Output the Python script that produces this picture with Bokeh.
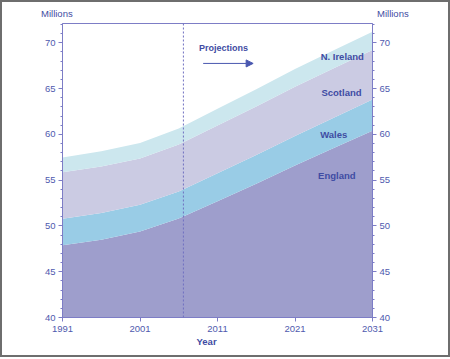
from bokeh.plotting import figure
from bokeh.layouts import column
from bokeh.models import (Range1d, LinearAxis, Label, Span, Arrow, NormalHead,
                          FixedTicker, ColumnDataSource, Title, Div)
from bokeh.embed import file_html
from bokeh.resources import INLINE

# ---- data (millions) ----
years = [1991, 1996, 2001, 2006, 2011, 2016, 2021, 2026, 2031]
england = [47.9, 48.5, 49.4, 50.8, 52.7, 54.6, 56.6, 58.5, 60.4]
wales = [2.87, 2.90, 2.91, 2.97, 3.05, 3.13, 3.22, 3.31, 3.40]
scotland = [5.08, 5.09, 5.06, 5.12, 5.22, 5.30, 5.37, 5.41, 5.42]
n_ireland = [1.61, 1.66, 1.69, 1.74, 1.83, 1.89, 1.94, 1.97, 1.99]

series_names = ["England", "Wales", "Scotland", "N. Ireland"]
series_keys = ["england", "wales", "scotland", "n_ireland"]
colors = ["#9e9ecc", "#99cce6", "#cbcbe3", "#cce7ee"]

x_ticks = [1991, 2001, 2011, 2021, 2031]
y_ticks = [40, 45, 50, 55, 60, 65, 70]
projection_start = 2006.6
unit_label = "Millions"
x_label = "Year"

TXT = "#3f4ca3"
TICK = "#4f5aae"
AX = "#7d7dc6"
FONT = "Liberation Sans"

source = ColumnDataSource(dict(year=years, england=england, wales=wales,
                               scotland=scotland, n_ireland=n_ireland))

fig = figure(width=446, height=333, output_backend="svg", toolbar_location=None,
             x_range=Range1d(1991, 2031), y_range=Range1d(40, 72.1),
             min_border_left=60, min_border_right=76, min_border_top=1,
             min_border_bottom=38, title=None)
fig.background_fill_color = "white"
fig.border_fill_color = "white"
fig.outline_line_color = AX
fig.outline_line_width = 1
fig.xgrid.visible = False
fig.ygrid.visible = False

fig.varea_stack(stackers=series_keys, x="year", color=colors, source=source)

def style_axis(ax, minor=True):
    ax.axis_line_color = AX
    ax.major_tick_line_color = AX
    ax.minor_tick_line_color = AX if minor else None
    ax.major_tick_out = 4
    ax.major_tick_in = 0
    ax.minor_tick_out = 2
    ax.minor_tick_in = 0
    ax.major_label_text_color = TICK
    ax.major_label_text_font = FONT
    ax.major_label_text_font_size = "9.5px"
    ax.major_label_standoff = 3

fig.xaxis.ticker = FixedTicker(ticks=x_ticks)
style_axis(fig.xaxis[0], minor=False)
fig.xaxis.major_label_standoff = 4

fig.yaxis.ticker = FixedTicker(ticks=y_ticks, minor_ticks=list(range(40, 73)))
style_axis(fig.yaxis[0])

raxis = LinearAxis(ticker=FixedTicker(ticks=y_ticks, minor_ticks=list(range(40, 73))))
style_axis(raxis)
fig.add_layout(raxis, "right")

fig.add_layout(Span(location=projection_start, dimension="height",
                    line_color="#6f6fc0", line_dash="2 2", line_width=1))

def lab(x, y, text, bold=True, align="center", size="9px"):
    fig.add_layout(Label(x=x, y=y, text=text, text_color=TXT, text_font=FONT,
                         text_font_size=size,
                         text_font_style="bold" if bold else "normal",
                         text_align=align, text_baseline="middle"))

lab(2008.6, 69.45, "Projections", align="left")
fig.add_layout(Arrow(x_start=2009.15, y_start=67.74, x_end=2015.6, y_end=67.74,
                     line_color="#4a58b0", line_width=1,
                     end=NormalHead(size=7, fill_color="#4a58b0", line_color="#4a58b0")))

label_pos = [(2026.4, 55.5), (2026.0, 60.0), (2027.0, 64.6), (2027.1, 68.55)]
for name, (lx, ly) in zip(series_names, label_pos):
    lab(lx, ly, name, size="9.5px")

# "Year" below the x axis
fig.add_layout(Title(text=x_label, align="left", offset=134, standoff=3,
                     vertical_align="top",
                     text_color=TXT, text_font=FONT, text_font_size="9.5px",
                     text_font_style="bold"), "below")

# "Millions" above both y axes
span_style = ("position:absolute;top:6px;line-height:11px;white-space:nowrap;"
              "font-family:'Liberation Sans';font-size:9.5px;color:%s;" % TXT)
units = Div(text=('<div style="position:relative;width:446px;height:20px;">'
                  '<span style="%sleft:39px;">%s</span>'
                  '<span style="%sleft:375px;">%s</span></div>')
                 % (span_style, unit_label, span_style, unit_label),
            width=446, height=20, margin=0)

p = column(units, fig, spacing=0, width=450, height=357,
           styles={"border": "2px solid #6e6e6e", "box-sizing": "border-box",
                   "background-color": "white"})

open("out.html", "w").write(file_html(p, INLINE))
